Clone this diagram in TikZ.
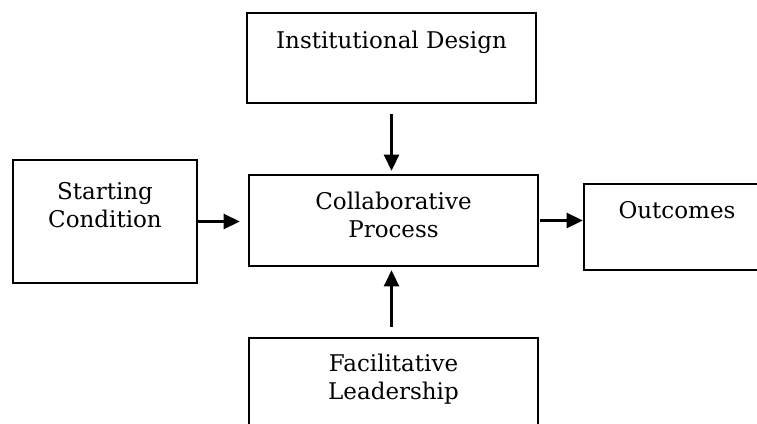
\documentclass[tikz,border=0pt]{standalone}
\usepackage{fontspec}
\setmainfont{DejaVu Serif}
\usetikzlibrary{arrows.meta}
\begin{document}
\begin{tikzpicture}[x=1pt,y=-1pt,
  box/.style={draw=black, line width=2.6pt, rectangle, inner sep=0pt},
  txt/.style={font=\fontsize{23}{28}\selectfont, align=center, inner sep=0pt, text=black},
  flow/.style={line width=2.6pt, -{Triangle[length=16pt,width=15pt]}}]
\clip (0,0) rectangle (757,423);
\node[box, minimum width=289pt, minimum height=90pt] (id) at (391.5,58) {};
\node[box, minimum width=184pt, minimum height=123pt] (sc) at (105,221.5) {};
\node[box, minimum width=289pt, minimum height=91pt] (cp) at (393.5,220.5) {};
\node[box, minimum width=186pt, minimum height=86pt] (out) at (677,227) {};
\node[box, minimum width=289pt, minimum height=100pt] (fl) at (393.5,388) {};
\node[txt] (idt) at (391.5,42) {Institutional Design};
\node[txt] (sct) at (105,205) {Starting\\Condition};
\node[txt] (cpt) at (393.5,215) {Collaborative\\Process};
\node[txt] (outt) at (677,210) {Outcomes};
\node[txt] (flt) at (393.5,379) {Facilitative\\Leadership};
\draw[flow, shorten <=10pt, shorten >=3pt] (id.south) -- (id.south |- cp.north);
\draw[flow, shorten <=10pt, shorten >=3pt] (id.south |- fl.north) -- (id.south |- cp.south);
\draw[flow, shorten >=8pt] (sc.east) -- (sc.east -| cp.west);
\draw[flow, shorten <=1pt] (cp.east) -- (cp.east -| out.west);
\end{tikzpicture}
\end{document}
